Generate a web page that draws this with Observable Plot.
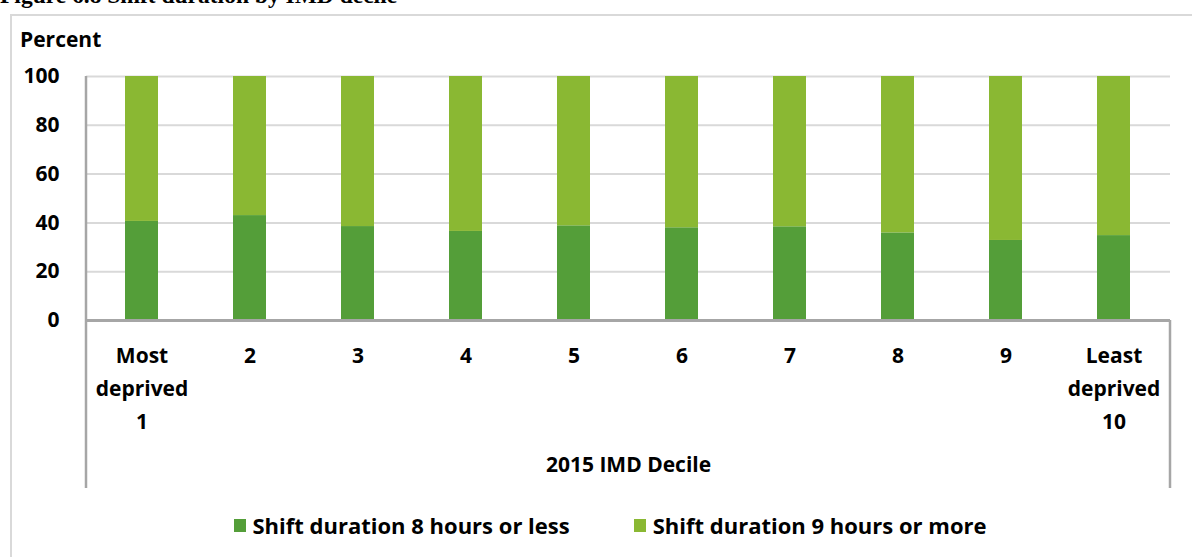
<!DOCTYPE html>
<html>
<head>
<meta charset="utf-8">
<script src="https://cdn.jsdelivr.net/npm/d3@7"></script>
<script src="https://cdn.jsdelivr.net/npm/@observablehq/plot@0.6"></script>
<style>
  html, body { margin: 0; padding: 0; background: #fff; }
  #wrap { position: relative; width: 1192px; height: 557px; overflow: hidden; font-family: "Open Sans", Lato, sans-serif; }
  #title { position: absolute; left: 0; top: -17px; font-family: "Liberation Serif", "DejaVu Serif", serif; font-weight: bold; font-size: 23.5px; line-height: 25px; white-space: nowrap; color: #000; }
  #frame { position: absolute; left: 10px; top: 14px; width: 1200px; height: 600px; border: 2px solid #d9d9d9; box-sizing: border-box; }
  #ylabel { position: absolute; left: 20px; top: 29px; font-weight: bold; font-size: 21px; line-height: 21px; color: #000; }
  #chart { position: absolute; left: 0; top: 0; }
  #legend { position: absolute; left: 0; width: 1192px; top: 513px; display: flex; justify-content: center; gap: 64px; font-weight: bold; font-size: 22px; line-height: 24px; color: #000; padding-left: 28px; box-sizing: border-box; }
  #legend .item { display: flex; align-items: center; gap: 7px; }
  #legend .sw { width: 12px; height: 13px; display: inline-block; }
</style>
</head>
<body>
<div id="wrap">
  <div id="frame"></div>
  <div id="title">Figure 6.8 Shift duration by IMD decile</div>
  <div id="ylabel">Percent</div>
  <div id="chart"></div>
  <div id="legend"></div>
</div>
<script>
const deciles = ["1", "2", "3", "4", "5", "6", "7", "8", "9", "10"];
const tickLabels = ["Most\ndeprived\n1", "2", "3", "4", "5", "6", "7", "8", "9", "Least\ndeprived\n10"];
const seriesNames = ["Shift duration 8 hours or less", "Shift duration 9 hours or more"];
const seriesColors = ["#549e39", "#8ab833"];
const shift8OrLess = [40.6, 43.0, 38.5, 36.5, 38.8, 38.0, 38.4, 35.9, 32.8, 34.8];
const shift9OrMore = shift8OrLess.map(v => +(100 - v).toFixed(1));
const yTicks = [0, 20, 40, 60, 80, 100];
const xTitle = "2015 IMD Decile";

const data = [];
deciles.forEach((d, i) => {
  data.push({decile: d, series: seriesNames[0], value: shift8OrLess[i]});
  data.push({decile: d, series: seriesNames[1], value: shift9OrMore[i]});
});

const axisColor = "#a6a6a6";
const fontFam = "'Open Sans', Lato, sans-serif";

// vertical category-axis lines extending into the bottom margin
function categoryFrame(index, scales, values, dim) {
  const g = d3.create("svg:g");
  const x0 = dim.marginLeft, x1 = dim.width - dim.marginRight;
  const yb = dim.height - dim.marginBottom;
  g.append("line").attr("x1", x0).attr("x2", x0).attr("y1", dim.marginTop).attr("y2", dim.height - 12)
    .attr("stroke", axisColor).attr("stroke-width", 2.5);
  g.append("line").attr("x1", x1).attr("x2", x1).attr("y1", yb).attr("y2", dim.height - 12)
    .attr("stroke", axisColor).attr("stroke-width", 2.5);
  return g.node();
}

const chart = Plot.plot({
  width: 1192,
  height: 500,
  marginLeft: 86,
  marginRight: 22,
  marginTop: 76,
  marginBottom: 180,
  style: {fontFamily: fontFam, background: "transparent"},
  x: {domain: deciles, paddingInner: 0.69, paddingOuter: 0.345, align: 0.5},
  y: {domain: [0, 100]},
  color: {domain: seriesNames, range: seriesColors},
  marks: [
    Plot.gridY(yTicks, {stroke: "#d9d9d9", strokeOpacity: 1, strokeWidth: 2}),
    Plot.barY(data, {x: "decile", y: "value", fill: "series", order: seriesNames, inset: 0}),
    Plot.ruleY([0], {stroke: axisColor, strokeWidth: 3}),
    categoryFrame,
    Plot.axisY(yTicks, {tickSize: 0, tickPadding: 27, fontSize: 21, fontWeight: "bold", fill: "#000", label: null}),
    Plot.axisX({tickSize: 0, tickPadding: 19, fontSize: 21, fontWeight: "bold", fill: "#000", lineHeight: 1.57,
      tickFormat: (d) => tickLabels[deciles.indexOf(d)], label: null}),
    Plot.text([xTitle], {frameAnchor: "bottom", dy: 151, fontSize: 21, fontWeight: "bold", fill: "#000"})
  ]
});
document.getElementById("chart").appendChild(chart);

const legend = document.getElementById("legend");
seriesNames.forEach((name, i) => {
  const item = document.createElement("div");
  item.className = "item";
  const sw = document.createElement("span");
  sw.className = "sw";
  sw.style.background = seriesColors[i];
  const t = document.createElement("span");
  t.textContent = name;
  item.appendChild(sw);
  item.appendChild(t);
  legend.appendChild(item);
});
</script>
</body>
</html>
